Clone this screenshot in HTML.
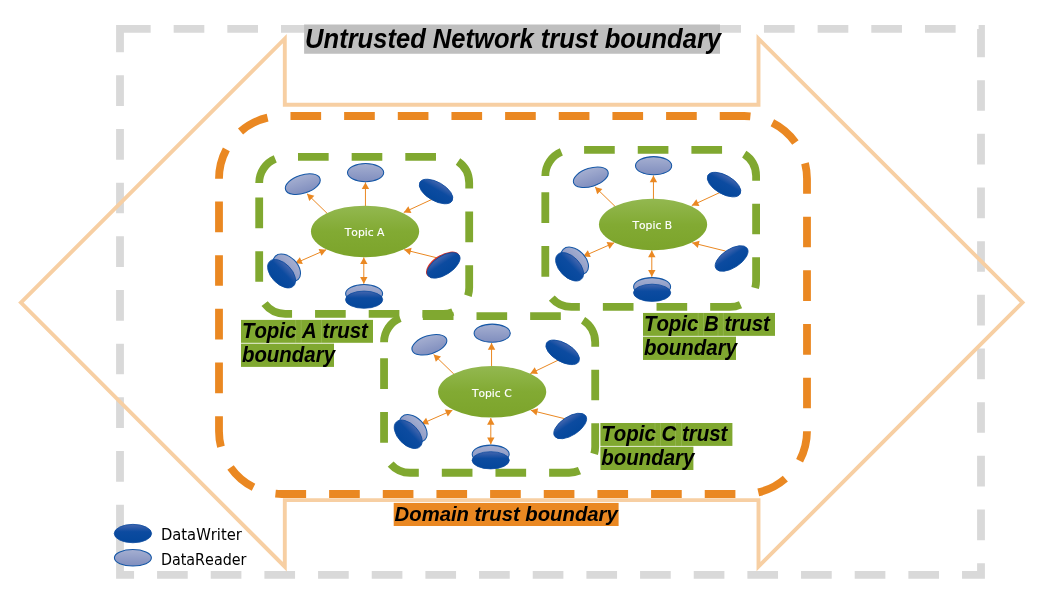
<!DOCTYPE html>
<html lang="en">
<head>
<meta charset="utf-8">
<title>Trust boundaries</title>
<style>
html,body{margin:0;padding:0;background:#fff;}
body{width:1046px;height:609px;overflow:hidden;}
svg{display:block;will-change:transform;}
text{font-kerning:none;}
.bi{font-family:"Liberation Sans",sans-serif;font-weight:bold;font-style:italic;fill:#000;}
.lg{font-family:"DejaVu Sans","Liberation Sans",sans-serif;fill:#000;}
</style>
</head>
<body>
<svg width="1046" height="609" viewBox="0 0 1046 609">
<defs>
<linearGradient id="gT" x1="0" y1="0" x2="0" y2="1">
<stop offset="0" stop-color="#93B850"/><stop offset="0.5" stop-color="#82AA33"/><stop offset="1" stop-color="#7CA42B"/>
</linearGradient>
<linearGradient id="gR" x1="0" y1="0" x2="0" y2="1">
<stop offset="0" stop-color="#A5AFD1"/><stop offset="1" stop-color="#808EBE"/>
</linearGradient>
<linearGradient id="gW" x1="0" y1="0" x2="0" y2="1">
<stop offset="0" stop-color="#4566AE"/><stop offset="0.4" stop-color="#0C4BA0"/><stop offset="1" stop-color="#04479B"/>
</linearGradient>
</defs>
<rect width="1046" height="609" fill="#fff"/>
<path d="M120,28.9 H981 V574.9 H120 Z" fill="none" stroke="#D9D9D9" stroke-width="7.8" stroke-dasharray="30.66 23.005" stroke-linejoin="miter"/>
<rect x="116.1" y="534" width="7.8" height="26" fill="#D9D9D9"/>
<polygon points="20.9,302.6 284.8,38.7 284.8,104.8 758.5,104.8 758.5,38.7 1022.5,302.55 758.5,566.6 758.5,500.1 284.8,500.1 284.8,566.7" fill="none" stroke="#F7CFA3" stroke-width="3.9" stroke-linejoin="miter" stroke-miterlimit="10"/>
<rect x="304.1" y="24.5" width="415.9" height="29.25" fill="#BFBFBF"/>
<text class="bi" transform="translate(305.10,47.95) scale(1,1.06)" font-size="25.56" xml:space="preserve">Untrusted Network trust boundary</text>
<path d="M219.00 178.80A62.80 62.80 0 0 1 226.34 149.34M240.56 131.44A62.80 62.80 0 0 1 267.60 117.63M290.47 116.00L321.13 116.00M344.13 116.00L374.79 116.00M397.79 116.00L428.45 116.00M451.45 116.00L482.11 116.00M505.11 116.00L535.77 116.00M558.77 116.00L589.43 116.00M612.43 116.00L643.09 116.00M666.09 116.00L696.75 116.00M719.75 116.00L744.20 116.00A62.80 62.80 0 0 1 750.40 116.31M772.37 122.67A62.80 62.80 0 0 1 795.41 142.44M805.03 163.19A62.80 62.80 0 0 1 807.00 178.80L807.00 193.69M807.00 216.69L807.00 247.35M807.00 270.35L807.00 301.01M807.00 324.01L807.00 354.67M807.00 377.67L807.00 408.33M807.00 431.33A62.80 62.80 0 0 1 799.60 460.77M785.34 478.65A62.80 62.80 0 0 1 758.28 492.40M735.40 494.00L704.74 494.00M681.74 494.00L651.08 494.00M628.08 494.00L597.42 494.00M574.42 494.00L543.76 494.00M520.76 494.00L490.10 494.00M467.10 494.00L436.44 494.00M413.44 494.00L382.78 494.00M359.78 494.00L329.12 494.00M306.12 494.00L281.80 494.00A62.80 62.80 0 0 1 275.47 493.68M253.51 487.27A62.80 62.80 0 0 1 230.52 467.45M220.94 446.68A62.80 62.80 0 0 1 219.00 431.20L219.00 416.18M219.00 393.18L219.00 362.52M219.00 339.52L219.00 308.86M219.00 285.86L219.00 255.20M219.00 232.20L219.00 201.54" fill="none" stroke="#EA8822" stroke-width="7.8"/>
<path d="M259.20 182.95A26.05 26.05 0 0 1 275.25 158.89M297.99 156.90L328.65 156.90M351.65 156.90L382.31 156.90M405.31 156.90L435.97 156.90M458.02 161.56A26.05 26.05 0 0 1 469.20 182.95L469.20 188.51M469.20 211.51L469.20 242.17M469.20 265.17L469.20 287.80A26.05 26.05 0 0 1 467.97 295.70M452.80 312.00A26.05 26.05 0 0 1 443.15 313.85L422.38 313.85M399.38 313.85L368.72 313.85M345.72 313.85L315.06 313.85M292.06 313.85L285.25 313.85A26.05 26.05 0 0 1 264.59 303.67M259.20 281.87L259.20 251.21M259.20 228.21L259.20 197.55" fill="none" stroke="#80A830" stroke-width="7.8"/>
<path d="M545.30 175.95A26.05 26.05 0 0 1 561.35 151.89M584.09 149.90L614.75 149.90M637.75 149.90L668.41 149.90M691.41 149.90L722.07 149.90M744.25 154.11A26.05 26.05 0 0 1 756.10 175.95L756.10 180.71M756.10 203.71L756.10 234.37M756.10 257.37L756.10 280.90A26.05 26.05 0 0 1 755.13 287.94M740.53 304.75A26.05 26.05 0 0 1 730.05 306.95L710.18 306.95M687.18 306.95L656.52 306.95M633.52 306.95L602.86 306.95M579.86 306.95L571.35 306.95A26.05 26.05 0 0 1 551.77 298.09M545.30 276.67L545.30 246.01M545.30 223.01L545.30 192.35" fill="none" stroke="#80A830" stroke-width="7.8"/>
<path d="M384.05 342.25A26.05 26.05 0 0 1 400.10 318.19M422.84 316.20L453.50 316.20M476.50 316.20L507.16 316.20M530.16 316.20L560.82 316.20M583.06 320.22A26.05 26.05 0 0 1 595.20 342.25L595.20 346.66M595.20 369.66L595.20 400.32M595.20 423.32L595.20 446.70A26.05 26.05 0 0 1 594.19 453.89M579.49 470.61A26.05 26.05 0 0 1 569.15 472.75L549.13 472.75M526.13 472.75L495.47 472.75M472.47 472.75L441.81 472.75M418.81 472.75L410.10 472.75A26.05 26.05 0 0 1 390.66 464.04M384.05 442.67L384.05 412.01M384.05 389.01L384.05 358.35" fill="none" stroke="#80A830" stroke-width="7.8"/>
<g>
<line x1="327.20" y1="213.40" x2="307.00" y2="193.80" stroke="#EA8822" stroke-width="1.0"/><path d="M307.00,193.80 L314.39,195.81 L309.23,201.12 Z" fill="#EA8822"/>
<line x1="365.45" y1="206.50" x2="365.45" y2="182.40" stroke="#EA8822" stroke-width="1.0"/><path d="M365.45,182.40 L369.15,189.10 L361.75,189.10 Z" fill="#EA8822"/>
<line x1="432.10" y1="199.30" x2="403.80" y2="212.40" stroke="#EA8822" stroke-width="1.0"/><path d="M403.80,212.40 L408.33,206.23 L411.43,212.94 Z" fill="#EA8822"/>
<line x1="437.70" y1="258.00" x2="404.20" y2="249.70" stroke="#EA8822" stroke-width="1.0"/><path d="M404.20,249.70 L411.59,247.72 L409.81,254.90 Z" fill="#EA8822"/>
<line x1="363.80" y1="257.40" x2="363.80" y2="283.70" stroke="#EA8822" stroke-width="1.0"/><path d="M363.80,283.70 L360.10,277.00 L367.50,277.00 Z" fill="#EA8822"/><path d="M363.80,257.40 L367.50,264.10 L360.10,264.10 Z" fill="#EA8822"/>
<line x1="326.20" y1="249.70" x2="295.20" y2="263.30" stroke="#EA8822" stroke-width="1.0"/><path d="M295.20,263.30 L299.85,257.22 L302.82,264.00 Z" fill="#EA8822"/><path d="M326.20,249.70 L321.55,255.78 L318.58,249.00 Z" fill="#EA8822"/>
<ellipse cx="365.05" cy="231.40" rx="54.1" ry="25.75" fill="url(#gT)"/>
<text x="364.60" y="235.90" text-anchor="middle" font-family="'DejaVu Sans', 'Liberation Sans', sans-serif" font-size="11" fill="#fff" stroke="#fff" stroke-width="0.15" textLength="39.7" lengthAdjust="spacingAndGlyphs">Topic A</text>
<ellipse cx="0" cy="0" rx="18.1" ry="9.1" fill="url(#gR)" stroke="#1557A6" stroke-width="1.05" transform="translate(302.80,184.15) rotate(-18)"/>
<ellipse cx="0" cy="0" rx="18.1" ry="9.1" fill="url(#gR)" stroke="#1557A6" stroke-width="1.05" transform="translate(365.60,172.60) rotate(0)"/>
<ellipse cx="0" cy="0" rx="18.60" ry="9.30" fill="url(#gW)" stroke="#0B4A9E" stroke-width="0.8" transform="translate(436.05,191.50) rotate(29.8)"/>
<ellipse cx="0" cy="0" rx="19.0" ry="9.7" fill="#D6342C" transform="translate(442.80,264.70) rotate(-33)"/><ellipse cx="0" cy="0" rx="18.60" ry="9.30" fill="url(#gW)" stroke="#0B4A9E" stroke-width="0.8" transform="translate(443.60,265.40) rotate(-33)"/>
<ellipse cx="0" cy="0" rx="18.5" ry="9.1" fill="url(#gR)" stroke="#1557A6" stroke-width="1.05" transform="translate(364.10,293.60) rotate(0)"/>
<ellipse cx="0" cy="0" rx="18.60" ry="8.60" fill="url(#gW)" stroke="#0B4A9E" stroke-width="0.8" transform="translate(364.10,299.70) rotate(0)"/>
<ellipse cx="0" cy="0" rx="16.3" ry="10.7" fill="url(#gR)" stroke="#1557A6" stroke-width="1.05" transform="translate(286.70,267.80) rotate(45)"/>
<ellipse cx="0" cy="0" rx="17.10" ry="10.20" fill="url(#gW)" stroke="#0B4A9E" stroke-width="0.8" transform="translate(281.60,273.70) rotate(46)"/>
</g>
<g>
<line x1="615.20" y1="206.50" x2="595.00" y2="186.90" stroke="#EA8822" stroke-width="1.0"/><path d="M595.00,186.90 L602.39,188.91 L597.23,194.22 Z" fill="#EA8822"/>
<line x1="653.45" y1="199.60" x2="653.45" y2="175.50" stroke="#EA8822" stroke-width="1.0"/><path d="M653.45,175.50 L657.15,182.20 L649.75,182.20 Z" fill="#EA8822"/>
<line x1="720.10" y1="192.40" x2="691.80" y2="205.50" stroke="#EA8822" stroke-width="1.0"/><path d="M691.80,205.50 L696.33,199.33 L699.43,206.04 Z" fill="#EA8822"/>
<line x1="725.70" y1="251.10" x2="692.20" y2="242.80" stroke="#EA8822" stroke-width="1.0"/><path d="M692.20,242.80 L699.59,240.82 L697.81,248.00 Z" fill="#EA8822"/>
<line x1="651.80" y1="250.50" x2="651.80" y2="276.80" stroke="#EA8822" stroke-width="1.0"/><path d="M651.80,276.80 L648.10,270.10 L655.50,270.10 Z" fill="#EA8822"/><path d="M651.80,250.50 L655.50,257.20 L648.10,257.20 Z" fill="#EA8822"/>
<line x1="614.20" y1="242.80" x2="583.20" y2="256.40" stroke="#EA8822" stroke-width="1.0"/><path d="M583.20,256.40 L587.85,250.32 L590.82,257.10 Z" fill="#EA8822"/><path d="M614.20,242.80 L609.55,248.88 L606.58,242.10 Z" fill="#EA8822"/>
<ellipse cx="653.05" cy="224.50" rx="54.1" ry="25.75" fill="url(#gT)"/>
<text x="652.30" y="229.20" text-anchor="middle" font-family="'DejaVu Sans', 'Liberation Sans', sans-serif" font-size="11" fill="#fff" stroke="#fff" stroke-width="0.15" textLength="39.7" lengthAdjust="spacingAndGlyphs">Topic B</text>
<ellipse cx="0" cy="0" rx="18.1" ry="9.1" fill="url(#gR)" stroke="#1557A6" stroke-width="1.05" transform="translate(590.80,177.25) rotate(-18)"/>
<ellipse cx="0" cy="0" rx="18.1" ry="9.1" fill="url(#gR)" stroke="#1557A6" stroke-width="1.05" transform="translate(653.60,165.70) rotate(0)"/>
<ellipse cx="0" cy="0" rx="18.60" ry="9.30" fill="url(#gW)" stroke="#0B4A9E" stroke-width="0.8" transform="translate(724.05,184.60) rotate(29.8)"/>
<ellipse cx="0" cy="0" rx="18.60" ry="9.30" fill="url(#gW)" stroke="#0B4A9E" stroke-width="0.8" transform="translate(731.60,258.50) rotate(-33)"/>
<ellipse cx="0" cy="0" rx="18.5" ry="9.1" fill="url(#gR)" stroke="#1557A6" stroke-width="1.05" transform="translate(652.10,286.70) rotate(0)"/>
<ellipse cx="0" cy="0" rx="18.60" ry="8.60" fill="url(#gW)" stroke="#0B4A9E" stroke-width="0.8" transform="translate(652.10,292.80) rotate(0)"/>
<ellipse cx="0" cy="0" rx="16.3" ry="10.7" fill="url(#gR)" stroke="#1557A6" stroke-width="1.05" transform="translate(574.70,260.90) rotate(45)"/>
<ellipse cx="0" cy="0" rx="17.10" ry="10.20" fill="url(#gW)" stroke="#0B4A9E" stroke-width="0.8" transform="translate(569.60,266.80) rotate(46)"/>
</g>
<g>
<line x1="453.80" y1="374.00" x2="433.60" y2="354.40" stroke="#EA8822" stroke-width="1.0"/><path d="M433.60,354.40 L440.99,356.41 L435.83,361.72 Z" fill="#EA8822"/>
<line x1="491.55" y1="367.10" x2="491.55" y2="343.00" stroke="#EA8822" stroke-width="1.0"/><path d="M491.55,343.00 L495.25,349.70 L487.85,349.70 Z" fill="#EA8822"/>
<line x1="558.70" y1="359.90" x2="530.30" y2="373.60" stroke="#EA8822" stroke-width="1.0"/><path d="M530.30,373.60 L534.73,367.36 L537.94,374.02 Z" fill="#EA8822"/>
<line x1="564.30" y1="418.60" x2="530.80" y2="410.30" stroke="#EA8822" stroke-width="1.0"/><path d="M530.80,410.30 L538.19,408.32 L536.41,415.50 Z" fill="#EA8822"/>
<line x1="490.80" y1="418.00" x2="490.80" y2="444.30" stroke="#EA8822" stroke-width="1.0"/><path d="M490.80,444.30 L487.10,437.60 L494.50,437.60 Z" fill="#EA8822"/><path d="M490.80,418.00 L494.50,424.70 L487.10,424.70 Z" fill="#EA8822"/>
<line x1="452.40" y1="410.30" x2="421.40" y2="423.90" stroke="#EA8822" stroke-width="1.0"/><path d="M421.40,423.90 L426.05,417.82 L429.02,424.60 Z" fill="#EA8822"/><path d="M452.40,410.30 L447.75,416.38 L444.78,409.60 Z" fill="#EA8822"/>
<ellipse cx="492.15" cy="391.85" rx="54.1" ry="25.75" fill="url(#gT)"/>
<text x="491.80" y="396.50" text-anchor="middle" font-family="'DejaVu Sans', 'Liberation Sans', sans-serif" font-size="11" fill="#fff" stroke="#fff" stroke-width="0.15" textLength="39.7" lengthAdjust="spacingAndGlyphs">Topic C</text>
<ellipse cx="0" cy="0" rx="18.1" ry="9.1" fill="url(#gR)" stroke="#1557A6" stroke-width="1.05" transform="translate(429.40,344.75) rotate(-18)"/>
<ellipse cx="0" cy="0" rx="18.1" ry="9.1" fill="url(#gR)" stroke="#1557A6" stroke-width="1.05" transform="translate(492.20,333.20) rotate(0)"/>
<ellipse cx="0" cy="0" rx="18.60" ry="9.30" fill="url(#gW)" stroke="#0B4A9E" stroke-width="0.8" transform="translate(562.65,352.35) rotate(29.8)"/>
<ellipse cx="0" cy="0" rx="18.60" ry="9.30" fill="url(#gW)" stroke="#0B4A9E" stroke-width="0.8" transform="translate(570.20,426.00) rotate(-33)"/>
<ellipse cx="0" cy="0" rx="18.5" ry="9.1" fill="url(#gR)" stroke="#1557A6" stroke-width="1.05" transform="translate(490.70,454.20) rotate(0)"/>
<ellipse cx="0" cy="0" rx="18.60" ry="8.60" fill="url(#gW)" stroke="#0B4A9E" stroke-width="0.8" transform="translate(490.70,460.30) rotate(0)"/>
<ellipse cx="0" cy="0" rx="16.3" ry="10.7" fill="url(#gR)" stroke="#1557A6" stroke-width="1.05" transform="translate(413.30,428.40) rotate(45)"/>
<ellipse cx="0" cy="0" rx="17.10" ry="10.20" fill="url(#gW)" stroke="#0B4A9E" stroke-width="0.8" transform="translate(408.20,434.30) rotate(46)"/>
</g>
<rect x="241" y="319.9" width="132" height="22.9" fill="#80A830"/>
<rect x="241" y="343.9" width="93" height="23" fill="#80A830"/>
<rect x="241" y="342.79999999999995" width="93" height="1.1" fill="#80A830" opacity="0.3"/>
<rect x="295.50" y="319.9" width="0.6" height="22.9" fill="#fff" opacity="0.22"/>
<rect x="300.80" y="319.9" width="0.6" height="22.9" fill="#fff" opacity="0.22"/>
<rect x="321.20" y="319.9" width="0.6" height="22.9" fill="#fff" opacity="0.22"/>
<text class="bi" transform="translate(241.90,338.10) scale(1,1.035)" font-size="20.44" xml:space="preserve">Topic A trust</text>
<text class="bi" transform="translate(241.90,361.75) scale(1,1.035)" font-size="20.44" xml:space="preserve">boundary</text>
<rect x="643" y="312.95" width="132" height="22.9" fill="#80A830"/>
<rect x="643" y="336.95" width="93" height="23" fill="#80A830"/>
<rect x="643" y="335.84999999999997" width="93" height="1.1" fill="#80A830" opacity="0.3"/>
<rect x="697.80" y="312.95" width="0.6" height="22.9" fill="#fff" opacity="0.22"/>
<rect x="703.10" y="312.95" width="0.6" height="22.9" fill="#fff" opacity="0.22"/>
<rect x="717.70" y="312.95" width="0.6" height="22.9" fill="#fff" opacity="0.22"/>
<rect x="722.90" y="312.95" width="0.6" height="22.9" fill="#fff" opacity="0.22"/>
<text class="bi" transform="translate(643.90,331.15) scale(1,1.035)" font-size="20.44" xml:space="preserve">Topic B trust</text>
<text class="bi" transform="translate(643.90,354.80) scale(1,1.035)" font-size="20.44" xml:space="preserve">boundary</text>
<rect x="600.4" y="423.0" width="132" height="22.9" fill="#80A830"/>
<rect x="600.4" y="447.0" width="93" height="23" fill="#80A830"/>
<rect x="600.4" y="445.9" width="93" height="1.1" fill="#80A830" opacity="0.3"/>
<rect x="654.70" y="423.0" width="0.6" height="22.9" fill="#fff" opacity="0.22"/>
<rect x="660.10" y="423.0" width="0.6" height="22.9" fill="#fff" opacity="0.22"/>
<rect x="675.40" y="423.0" width="0.6" height="22.9" fill="#fff" opacity="0.22"/>
<rect x="681.00" y="423.0" width="0.6" height="22.9" fill="#fff" opacity="0.22"/>
<text class="bi" transform="translate(601.30,441.20) scale(1,1.035)" font-size="20.44" xml:space="preserve">Topic C trust</text>
<text class="bi" transform="translate(601.30,464.85) scale(1,1.035)" font-size="20.44" xml:space="preserve">boundary</text>
<rect x="393.7" y="502.9" width="224.9" height="23.1" fill="#EA8822"/>
<text class="bi" transform="translate(394.60,521.10) scale(1,1.035)" font-size="20.3" xml:space="preserve">Domain trust boundary</text>
<ellipse cx="0" cy="0" rx="18.70" ry="9.20" fill="url(#gW)" stroke="#0B4A9E" stroke-width="0.8" transform="translate(132.90,533.55) rotate(0)"/><ellipse cx="0" cy="0" rx="18.5" ry="8.3" fill="url(#gR)" stroke="#1557A6" stroke-width="1.05" transform="translate(132.90,557.80) rotate(0)"/><text class="lg" x="160.9" y="539.6" font-size="15" textLength="81.0" lengthAdjust="spacingAndGlyphs">DataWriter</text>
<text class="lg" x="160.9" y="564.5" font-size="15" textLength="85.6" lengthAdjust="spacingAndGlyphs">DataReader</text>
</svg>
</body>
</html>
